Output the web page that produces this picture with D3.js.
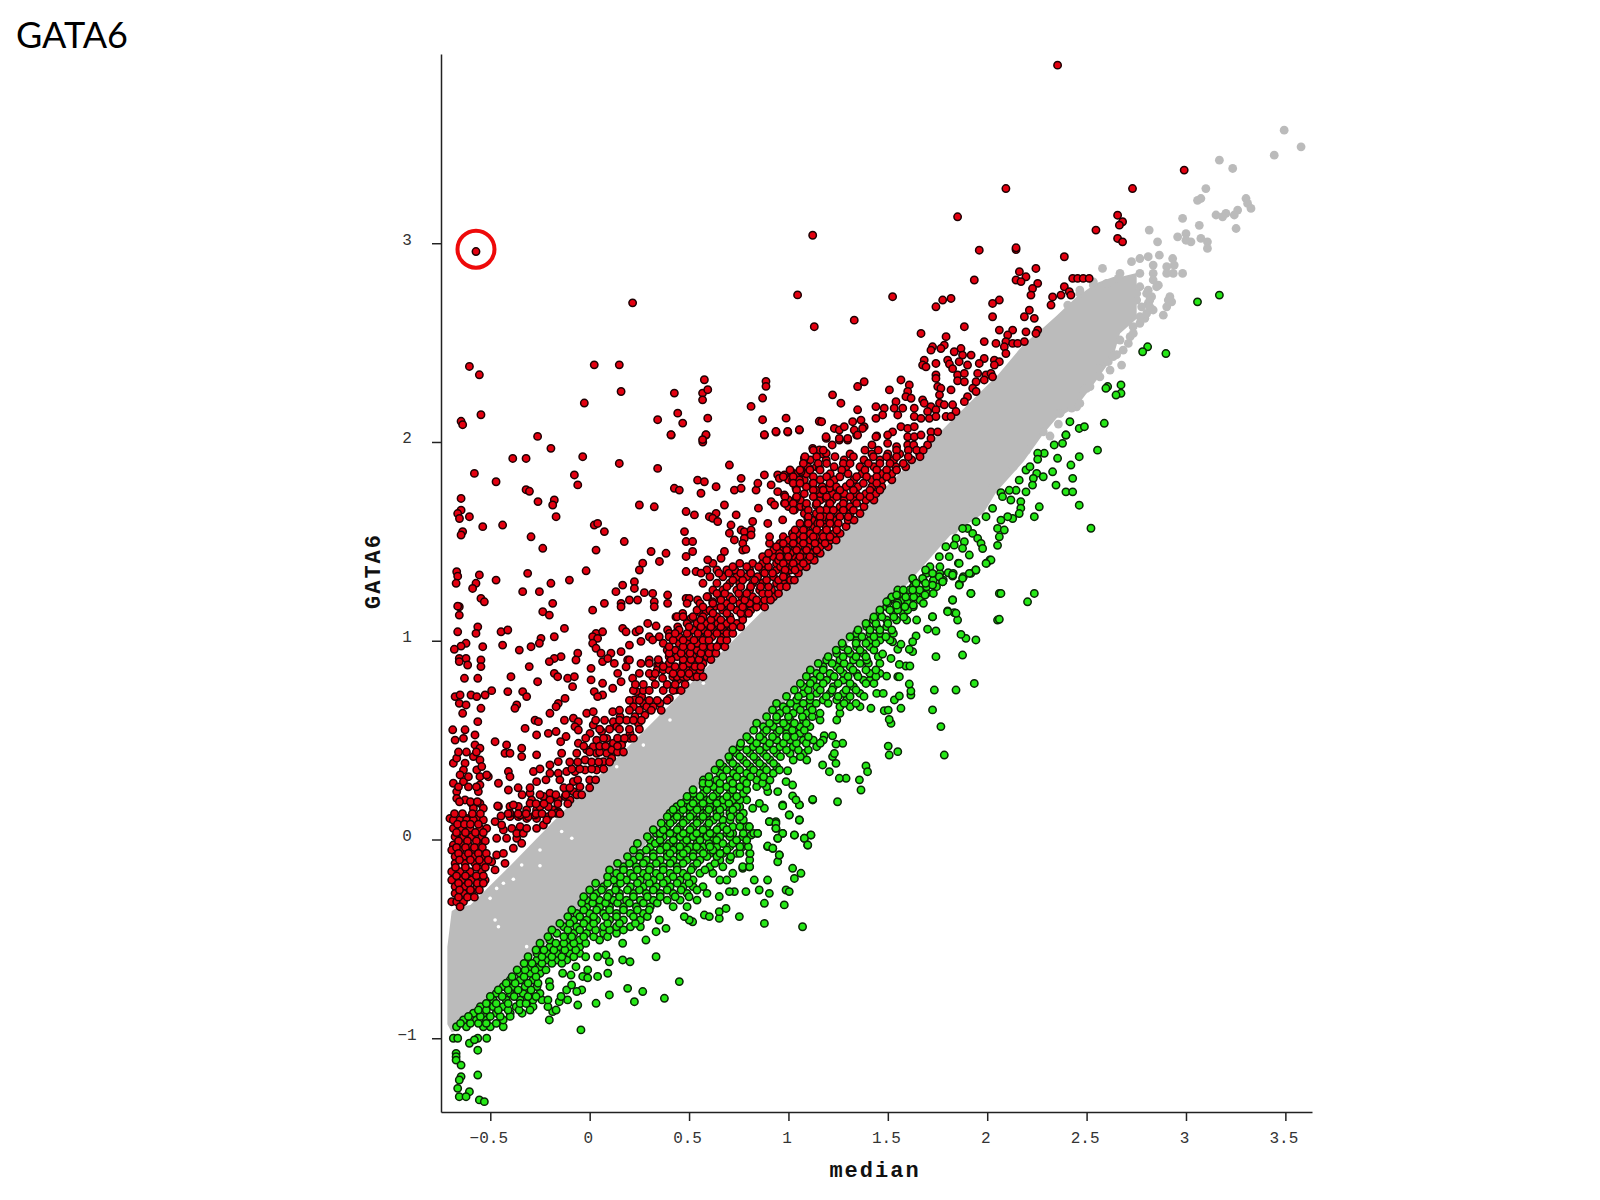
<!DOCTYPE html>
<html><head><meta charset="utf-8">
<script src="https://cdnjs.cloudflare.com/ajax/libs/d3/7.8.5/d3.min.js"></script>
<style>html,body{margin:0;background:#fff}svg{display:block}</style>
</head><body><svg id="c" width="1600" height="1200"></svg>
<script>
const chartTitle="GATA6", xTitle="median", yTitle="GATA6";
const xTicks=[-0.5,0,0.5,1,1.5,2,2.5,3,3.5];
const yTicks=[-1,0,1,2,3];
const highlighted=[-0.572,2.97];

const bandX=[-.716,-.694,-.66,-.6,-.418,-.183,-.015,.136,.337,.454,.8,1.194,1.427,1.628,1.813,1.98,2.047,2.182,2.282,2.349,2.449,2.55,2.634,2.668,2.752];
const bandTop=[-.54,-.36,-.34,-.33,-.15,.09,.26,.41,.61,.73,1.08,1.475,1.71,1.91,2.10,2.265,2.33,2.49,2.575,2.635,2.73,2.80,2.83,2.83,2.85];
const bandBottom=[-.93,-.97,-.96,-.9,-.707,-.489,-.305,-.17,.031,.165,.51,.903,1.09,1.32,1.53,1.64,1.75,1.9,2.04,2.12,2.177,2.311,2.429,2.546,2.62];

const grayX=[3.494,3.579,3.444,3.168,3.235,3.1,3.075,3.058,3.302,3.31,3.327,3.26,3.243,3.201,3.184,3.151,2.983,3.067,3.252,2.815,2.857,2.958,3.0,3.0,3.025,3.075,3.108,3.108,2.58,2.983,2.405,2.726,2.768,2.81,2.866,2.933,2.941,2.903,2.835,2.835,2.861,2.936,2.903,2.81,2.827,2.81,2.919,2.928,2.903,2.886,2.835,2.793,2.752,2.768,2.734,2.719,2.668,2.651,2.676,2.609,2.559,2.5,2.45,2.425,2.366,2.358,2.316,2.534,2.601,2.659,2.466,2.768,2.768,2.752,2.777,2.768,2.735,2.71,2.684,2.634,2.618,2.567,2.517,2.483,2.466,2.835,2.852,2.802,2.818,2.818,2.802,2.911,2.668,2.534,2.466,1.83,1.93,2.03,2.131,2.198,2.282,2.366];
const grayY=[3.569,3.485,3.443,3.418,3.376,3.275,3.225,3.216,3.225,3.2,3.175,3.167,3.142,3.15,3.133,3.142,3.125,3.09,3.074,3.066,3.007,3.032,3.048,3.015,3.007,3.024,3.007,2.974,2.873,2.848,2.689,2.907,2.923,2.932,2.94,2.923,2.89,2.882,2.89,2.848,2.789,2.848,2.848,2.764,2.731,2.697,2.731,2.705,2.68,2.638,2.664,2.622,2.714,2.63,2.58,2.53,2.513,2.439,2.387,2.404,2.37,2.27,2.177,2.17,2.145,2.09,2.03,2.789,2.798,2.823,2.747,2.848,2.781,2.747,2.68,2.597,2.546,2.496,2.462,2.429,2.362,2.328,2.278,2.261,2.194,2.815,2.781,2.747,2.714,2.68,2.647,2.714,2.848,2.806,2.764,1.557,1.657,1.775,1.876,1.959,2.051,2.144];
const specksX=[-.468,-.434,-.384,-.501,-.25,-.342,-.25,-.141,-.09,-.476,-.459,-.317,.572,.404,.27,.186,.136];
const specksY=[-.246,-.22,-.2,-.296,-.132,-.128,-.053,.04,.006,-.405,-.439,-.539,.786,.601,.475,.442,.366];

// [x values, y value(s)]
const greenLower=[
[[.451,-.044,.376,.267,.191,.225,.099,.032,-.06,-.203,-.186,-.169,-.153,-.111,-.144,-.116,-.091,-.04,-.065],[-.715,-.958,-.799,-.765,-.749,-.816,-.782,-.824,-.833,-.908,-.866,-.858,-.816,-.807,-.79,-.757,-.732,-.757,-.765]],
[[-.203,-.245,-.136,-.094,-.035,-.01,-.01,.04,.091,-.069,.04,.082,.099,.166,.203,.334,.166,.283,.334,.384,.35],[-.715,-.665,-.673,-.682,-.689,-.656,-.696,-.689,-.673,-.64,-.59,-.581,-.615,-.606,-.615,-.59,-.522,-.506,-.464,-.447,-.405]],
[[.518,.501,.476,.577,.602,.652,.652,.686,.753,.879,1.071,.879,.979,.988,1.004,.904,.853,.786,.828,.895,1.03,1.063,1.021,.946,.954,.895,.921,1.097,1.113,1.08,1.03,.971,.946,.937,.904,.937,1.004,1.055,.971,1.055,1.122,.803,.845,.812,.803,.77,.728,.703,.652],[-.414,-.405,-.388,-.38,-.388,-.397,-.363,-.347,-.388,-.422,-.439,-.321,-.329,-.254,-.262,-.271,-.254,-.262,-.204,-.204,-.196,-.17,-.145,-.112,-.078,-.036,-.044,-.028,.022,.006,.022,.031,.006,.056,.09,.09,.124,.098,.174,.174,.199,.064,.031,.022,-.137,-.145,-.262,-.262,-.287]],
[[-.686,-.664,-.518,-.563,-.605,-.58,-.563,-.672,-.672,-.672,-.647,-.563,-.647,-.656,-.664,-.605,-.656,-.622,-.555,-.53],[-1.0,-1.0,-1.0,-1.0,-1.025,-1.008,-1.06,-1.076,-1.093,-1.11,-1.135,-1.185,-1.193,-1.21,-1.252,-1.269,-1.294,-1.294,-1.31,-1.319]],
[[-.67,-.62,-.535,-.5,-.435],-.942],[[-.635,-.57,-.52,-.435],-.908],[[-.585,-.535,-.47,-.4,-.34],-.874],
[[-.55,-.485,-.435,-.37,-.285,-.21],-.841],[[-.485,-.42,-.35,-.285,-.24,-.21],-.807],[[-.47,-.4,-.335,-.25],-.774],
[[-.435,-.385,-.325,-.265,-.2],-.74],[[-.4,-.35,-.285],-.707],[[-.35,-.3,-.25],-.673],[[-.3,-.25],-.64],
[[-.265,-.215,-.165,-.115],-.606],[[-.265,-.215,-.165,-.1,-.05],-.573],[[-.2,-.15,-.1,-.05],-.539],[[-.2,-.115,-.05,.05],-.506],
[[-.165,-.08,-.015,.07,.135],-.472],[[-.13,-.065,0,.07,.135,.205,.255],-.439],[[-.08,-.015,.035,.10,.17,.255],-.405],
[[-.065,0,.07,.135,.205,.27],-.372],[[-.015,.05,.10,.17,.235,.305,.42,.49],-.338],[[-.015,.05,.12,.185,.255,.32,.39,.455,.54],-.305],
[[.035,.10,.15,.22,.285,.355,.42,.49,.59],-.271],[[.07,.135,.205,.27,.335,.405,.47,.52,.57],-.237],[[.12,.185,.255,.32,.39,.455,.52,.655,.69],-.204],
[[.135,.205,.27,.335,.405,.47,.555,.62,.72],-.17],[[.17,.235,.305,.37,.44,.52,.605,.67,.77,.805],-.137],[[.22,.285,.355,.42,.49,.555,.655,.705,.805],-.103],
[[.255,.32,.39,.455,.52,.605,.67,.74,.805],-.07],[[.305,.37,.44,.505,.57,.64,.705,.77],-.036],[[.305,.355,.42,.49,.555,.62,.74,.79],-.003],
[[.335,.42,.49,.555,.62,.69,.72,.825],.031],[[.39,.455,.52,.59,.655,.72,.79],.064],[[.405,.47,.54,.605,.67,.755],.098],
[[.44,.505,.57,.64,.705,.77],.132],[[.49,.555,.62,.69,.755],.165],[[.52,.59,.655,.72,.79],.199]];

const greenLowerDense=[
[[-.65,-.60,-.56,-.52,-.47],-.925],[[-.61,-.55,-.50,-.45,-.40],-.89],[[-.56,-.52,-.46,-.41,-.355,-.30],-.858],[[-.52,-.47,-.41,-.35,-.32],-.825],
[[-.50,-.44,-.38,-.31,-.27],-.79],[[-.46,-.41,-.36,-.295],-.757],[[-.42,-.375,-.31,-.26],-.723],[[-.39,-.33,-.27],-.69],
[[-.365,-.325,-.275,-.22],-.656],[[-.33,-.29,-.24,-.19,-.14],-.623],[[-.31,-.24,-.19,-.14,-.08,-.02],-.59],[[-.27,-.23,-.18,-.125,-.07],-.556],
[[-.25,-.17,-.13,-.08,-.02],-.522],[[-.21,-.13,-.09,-.03,.02,.09],-.489],[[-.19,-.11,-.05,.03,.10,.17],-.455],[[-.15,-.10,-.03,.02,.09,.15,.23],-.422],
[[-.11,-.05,.02,.08,.135,.22,.29],-.388],[[-.09,-.03,.035,.10,.17,.24,.30],-.355],[[-.04,.015,.08,.14,.20,.27,.34],-.32],[[-.03,.02,.09,.15,.22,.29,.355,.43,.50],-.288],
[[0,.06,.13,.19,.25,.32,.39,.46,.54],-.254],[[.03,.09,.155,.24,.30,.37,.44,.50],-.22],[[.09,.155,.22,.29,.355,.42,.49],-.187],[[.10,.17,.24,.30,.37,.44,.51,.58],-.153],
[[.14,.20,.27,.335,.405,.47,.54,.63],-.12],[[.19,.25,.32,.39,.455,.52,.59,.64,.71],-.086],[[.22,.285,.355,.42,.49,.555,.62,.69],-.053],[[.24,.33,.40,.47,.54,.60,.67,.72],-.02],
[[.29,.37,.455,.52,.59,.655,.705,.77],.014]];

const greenMid=[
[[1.784,1.767,1.725,1.935,1.843,1.734,1.742,1.876,1.943,1.893,1.868,1.742,1.7,1.642,1.625,1.625,1.608,1.725,1.801,1.834,1.851,1.826,1.918,2.061,2.052,1.997,2.013,1.943,1.918,1.88,1.86,1.826,1.855,1.804,1.776],[.425,.568,.652,.785,.752,.752,.92,.928,1.004,1.012,1.032,1.049,1.058,1.024,.995,.945,.957,1.12,1.15,1.141,1.104,1.205,1.238,1.238,1.104,1.39,1.406,1.356,1.339,1.322,1.285,1.325,1.39,1.342,1.297]],
[[1.502,1.55,1.507,1.39,1.398,1.357,1.365,1.29,1.256,1.247,1.122,1.055,1.021,1.038,.971,1.004,1.055,.904,.937,.937,1.03,.971,.946,1.113,1.08,1.097,.845,.803,.896,.921,.954,.82,.879,.854],[.47,.442,.425,.37,.341,.3,.249,.308,.308,.19,.202,.174,.219,.199,.169,.123,.098,.09,.081,.056,.023,.031,.006,.023,.006,-.028,.031,.064,-.033,-.044,-.078,.157,.157,.182]],
[[.996,.988,1.021,.946,.896,1.172,1.206,1.239,1.222,1.231,1.273,1.239,1.222,1.18,1.516,1.507,1.482,1.502,1.415,1.566,1.533,1.558,1.616,1.616,1.608,1.55,1.558,1.494,1.591,1.611,1.558,1.516,1.452,1.474,1.55,1.566,1.524,1.46,1.402],[.346,.291,.274,.241,.241,.375,.341,.383,.417,.433,.484,.48,.522,.522,.584,.604,.648,.651,.66,.66,.702,.722,.727,.747,.782,.819,.819,.822,.873,.873,.881,.911,.92,.933,.957,.982,.995,.886,.886]],
[[.404,.471,.572,.656,.756,.807],-.07],[[.387,.454,.538,.605,.756,.798],-.036],[[.354,.421,.488,.555,.639,.739,.79],-.003],
[[.354,.404,.471,.538,.605,.706,.773],.031],[[.387,.454,.521,.589,.672,.756],.065],[[.421,.488,.555,.622,.706,.773],.098],
[[.404,.454,.521,.589,.656,.723,.773],.132],[[.438,.505,.555,.605,.672,.739],.165],[[.488,.538,.605,.672,.756],.199],
[[.521,.572,.639,.706,.773],.232],[[.572,.622,.689,.756,.84,.89],.266],[[.572,.639,.706,.773,.84,.907],.299],
[[.656,.723,.79,.857,.924],.333],[[.672,.739,.807,.874,.941],.366],[[.706,.773,.84,.907,1.024,1.092],.4],
[[.739,.807,.874,.941,1.008,1.075],.433],[[.756,.823,.89,.957,1.024,1.142],.467],[[.807,.874,.941,1.008,1.075,1.125,1.175],.5],
[[.874,.941,.991,1.058],.534],[[.874,.924,.991,1.058,1.108],.568],[[.941,1.008,1.075,1.159,1.243],.601],
[[.957,1.024,1.092,1.159,1.259],.635],[[.974,1.041,1.108,1.259,1.31,1.36],.668],[[1.041,1.108,1.175,1.243,1.293],.702],
[[1.075,1.142,1.209,1.276,1.36,1.444,1.477],.735],[[1.075,1.142,1.226,1.327],.769],[[1.125,1.192,1.276,1.377,1.41],.802],
[[1.142,1.209,1.276,1.343,1.41,1.46],.836],[[1.175,1.243,1.31],.869],[[1.192,1.259,1.327,1.394],.903],
[[1.243,1.31,1.377],.936],[[1.276,1.343,1.41],.97],[[1.343,1.41,1.46,1.511],1.003],[[1.343,1.41,1.46,1.528],1.037],
[[1.394,1.444,1.494],1.071],[[1.427,1.494,1.544,1.595,1.645],1.104],[[1.46,1.528,1.578],1.138],[[1.494,1.544,1.628],1.171],
[[1.511,1.578,1.662],1.205],[[1.561,1.645,1.695],1.238],[[1.628,1.695,1.745],1.272],[[1.628,1.678,1.729,1.779],1.305],
[[1.695,1.762,1.829],1.339],[[1.712,1.762],1.372]];

const greenMidDense=[
[[.32,.37,.44,.505,.57,.64,.69],.049],[[.36,.405,.47,.54,.60],.082],[[.39,.44,.505,.57,.64,.71,.755],.115],[[.42,.47,.54,.60,.655,.72],.15],
[[.46,.52,.57,.64,.70],.182],[[.49,.555,.62,.69,.74],.216],[[.52,.59,.655,.72,.79],.25],[[.57,.60,.655,.72,.79,.87],.283],
[[.60,.67,.74,.81,.875],.316],[[.63,.69,.755,.825,.89,.955],.35],[[.655,.72,.79,.855,.925],.383],[[.70,.755,.825,.89,.96,1.06],.417],
[[.72,.79,.855,.925,.99,1.05,1.10],.45],[[.76,.84,.905,.975,1.04,1.09,1.16],.484],[[.79,.855,.92,.99,1.03,1.10],.517],[[.825,.89,.955,1.02,1.08],.55],
[[.84,.905,.975,1.03,1.09],.585],[[.89,.94,1.0,1.07,1.12],.618],[[.92,.99,1.06,1.12],.652],[[.94,1.01,1.075,1.14,1.2,1.28,1.34],.685],
[[.99,1.05,1.11,1.19,1.25,1.31,1.38],.72],[[1.03,1.10,1.16,1.22,1.29,1.34],.752],[[1.06,1.11,1.175,1.25,1.31,1.39,1.43],.785],[[1.09,1.16,1.23,1.30,1.35,1.44],.82],
[[1.11,1.175,1.26,1.325,1.39,1.44],.853],[[1.15,1.22,1.28,1.36],.886],[[1.2,1.275,1.34,1.39],.92],[[1.24,1.30,1.36,1.43],.953],
[[1.27,1.34,1.39,1.44],.987],[[1.31,1.37,1.43,1.49],1.02],[[1.35,1.41,1.46,1.52],1.054],[[1.39,1.44,1.50],1.087],
[[1.43,1.47,1.53,1.58],1.12],[[1.46,1.51,1.55,1.60],1.155],[[1.50,1.55,1.60],1.19],[[1.52,1.59,1.63],1.22],[[1.55,1.61,1.66],1.255]];

const greenUpper=[
[[3.168,3.058,2.807,2.782,2.899,2.606,2.597,2.673,2.673,2.648,2.416,2.463,2.489,2.589,2.396,2.396,2.337,2.379,2.287,2.254,2.254,2.354,2.463,2.421,2.555],[2.739,2.705,2.479,2.454,2.445,2.279,2.27,2.287,2.245,2.236,2.102,2.068,2.077,2.094,2.035,2.035,1.985,1.993,1.943,1.943,1.913,1.918,1.926,1.884,1.959]],
[[2.329,2.43,2.346,2.396,2.43,2.463,2.522,2.195,2.215,2.249,2.282,2.232,2.161,2.228,2.195,2.145,2.111],[1.85,1.817,1.783,1.749,1.749,1.682,1.566,1.859,1.876,1.842,1.825,1.817,1.808,1.783,1.749,1.757,1.757]],
[[2.069,2.077,2.119,2.169,2.169,2.161,2.128,2.103,2.069,2.237,2.262,2.027,1.994,1.944,1.901,1.927,1.876,1.952,1.969,1.977,2.052,2.086,2.061,2.052,2.019,1.994],[1.745,1.725,1.708,1.7,1.667,1.64,1.615,1.624,1.607,1.624,1.674,1.666,1.624,1.599,1.565,1.54,1.565,1.515,1.49,1.464,1.565,1.557,1.523,1.48,1.406,1.389]],
[[1.843,1.885,1.834,1.876,1.91,1.792,1.759,1.859,1.809,1.943,1.91,1.876,1.826,1.859,1.759,1.776,1.725],[1.515,1.498,1.481,1.465,1.431,1.473,1.423,1.389,1.423,1.356,1.339,1.314,1.331,1.28,1.322,1.297,1.28]],
[[1.69,1.725,1.675,1.69,1.625,1.642,1.625,1.826,1.918,2.069,2.237,2.203,1.725,1.801,1.843,2.061,1.544,1.578,1.494,1.544,1.586,1.628,1.687,1.729,1.679],[1.356,1.339,1.314,1.289,1.314,1.289,1.255,1.205,1.238,1.238,1.238,1.196,1.121,1.146,1.138,1.108,1.23,1.255,1.196,1.179,1.171,1.179,1.23,1.238,1.188]]];

const redTop=[
[[-.572,.216,1.122,1.046,1.13,-.605,-.555,.023,.149,.158,-.027,.426,.577,.568,.594,.568,.887,.887,.87,.812,.342,.443,.468,.594,.585,.409,.568,.87,.988,.937,.996,1.055,.879,1.155,-.647,-.639,-.547,-.262],[2.958,2.70,3.04,2.74,2.58,2.38,2.338,2.388,2.388,2.254,2.196,2.246,2.313,2.246,2.263,2.212,2.305,2.28,2.221,2.179,2.112,2.145,2.095,2.12,2.037,2.037,2.012,2.112,2.12,2.053,2.053,2.062,2.037,2.104,2.104,2.087,2.137,2.028]],
[[2.354,2.991,2.094,2.731,1.851,2.656,2.681,2.665,2.547,2.656,2.681,1.96,2.145,2.145,2.388,1.935,2.245,2.162,2.195,2.145,2.17,2.254,2.228,2.22,2.43,2.455,2.483,2.513],[3.896,3.368,3.275,3.275,3.133,3.141,3.108,3.091,3.066,3.024,3.007,2.965,2.968,2.977,2.932,2.815,2.873,2.857,2.831,2.815,2.807,2.798,2.772,2.739,2.823,2.823,2.823,2.823]],
[[2.388,2.413,2.371,2.421,2.329,2.321,1.524,1.776,1.818,1.742,1.331,2.061,2.027,2.027,2.212,2.187,2.237,1.885,1.667,1.793,2.061,2.128,2.103,2.195,2.254,2.245],[2.781,2.756,2.739,2.739,2.73,2.689,2.731,2.714,2.722,2.68,2.613,2.714,2.697,2.63,2.663,2.63,2.622,2.58,2.546,2.53,2.563,2.563,2.538,2.554,2.563,2.546]],
[[1.985,2.044,2.094,2.128,2.153,2.187,1.725,1.784,1.717,1.767,1.868,1.834,1.876,1.919,2.086,2.094,1.683,1.675,1.692,1.742,1.801,1.81,1.859,1.901,1.826,1.985,1.96,2.036,2.061,2.036],[2.505,2.496,2.505,2.496,2.496,2.505,2.479,2.487,2.462,2.47,2.47,2.454,2.437,2.437,2.479,2.445,2.412,2.387,2.378,2.395,2.412,2.392,2.404,2.387,2.369,2.42,2.395,2.412,2.404,2.387]],
[[1.952,1.994,2.019,2.027,1.944,1.985,1.742,1.742,1.851,1.885,1.851,1.885,1.566,1.608,1.381,1.348,1.508,1.6,1.591,1.617,1.222,1.264,1.348],[2.345,2.337,2.345,2.328,2.303,2.312,2.337,2.32,2.337,2.345,2.308,2.303,2.312,2.287,2.303,2.279,2.262,2.254,2.228,2.22,2.237,2.195,2.162]],
[[1.751,1.767,1.818,1.76,1.927,1.944,1.901,1.885,1.675,1.683,1.541,1.76,1.784,1.826,1.44,1.482,1.532,1.575,1.633,1.717,1.742,1.843],[2.279,2.27,2.262,2.237,2.27,2.254,2.228,2.203,2.212,2.195,2.203,2.195,2.187,2.187,2.178,2.17,2.17,2.17,2.17,2.178,2.162,2.153]],
[[1.44,1.474,1.55,1.633,1.667,1.7,1.709,1.742,1.793,1.818,1.323,1.365,1.381,1.167,1.231,1.256,1.281,1.331,1.373,1.348],[2.119,2.136,2.136,2.128,2.119,2.153,2.119,2.128,2.128,2.128,2.102,2.11,2.077,2.102,2.068,2.06,2.077,2.06,2.068,2.035]],
[[1.524,1.499,1.44,1.566,1.6,1.633,1.6,1.633,1.667,1.717,1.751,1.717,1.189,1.256,1.298],[2.051,2.035,2.026,2.077,2.068,2.077,2.026,2.026,2.035,2.051,2.051,2.018,2.026,2.018,2.018]]];

const redUpper=[
[[-.195,-.387,-.32,-.035,.149,.342,-.58,-.471,-.077,-.06,-.32,-.303,-.26,-.178,-.186,-.169,-.647,-.647,-.664,-.655,-.605,-.538,-.438,-.639,-.647,-.295,-.236,.023,.04,.074,.174,.032,.25,.325],[1.968,1.917,1.917,1.926,1.892,1.867,1.842,1.80,1.834,1.784,1.76,1.752,1.70,1.708,1.683,1.624,1.716,1.657,1.64,1.615,1.624,1.574,1.582,1.549,1.532,1.523,1.465,1.582,1.59,1.549,1.499,1.456,1.683,1.674]],
[[.41,.569,.585,.879,.938,.997,1.055,.426,.451,.543,.577,.56,.636,.703,.762,.728,.762,.678,.485,.527,.602,.636,.619,.644,.737,.477,.485,.518,.518,.485,.309,.384,.351,.267,.25,.678,.661,.594,.485,.535,.56],[2.035,2.0,2.035,2.035,2.05,2.05,2.06,1.767,1.758,1.808,1.8,1.742,1.775,1.884,1.817,1.758,1.767,1.683,1.65,1.633,1.624,1.641,1.616,1.6,1.633,1.549,1.499,1.499,1.449,1.424,1.449,1.44,1.399,1.39,1.356,1.449,1.415,1.407,1.348,1.348,1.34]],
[[.837,.846,.879,.913,.946,.98,1.013,1.064,1.08,1.097,1.122,1.156,1.19,1.156,.954,1.021,1.055,.946,.98,1.038,1.038,.98,.913,.93,1.03,1.122,1.139,1.173,1.19,1.206,1.088,1.139,1.19,.849],[1.758,1.792,1.834,1.784,1.834,1.834,1.851,1.851,1.918,1.876,1.968,1.96,1.943,1.867,1.817,1.809,1.809,1.75,1.733,1.716,1.767,1.692,1.70,1.683,1.658,1.792,1.758,1.758,1.716,1.767,1.675,1.683,1.658,1.667]],
[[.971,.896,.82,1.097,1.097,1.147,1.18,1.206,.711,.703,.762,.778,.812,.778,.812,.728,.77,.77,.786],[1.608,1.59,1.6,1.616,1.59,1.59,1.624,1.608,1.582,1.541,1.557,1.549,1.557,1.515,1.532,1.507,1.49,1.456,1.46]],
[[1.19,1.256,1.298,1.343,1.444,1.499,1.544],[2.018,2.01,2.01,2.035,2.03,1.993,1.976]],
[[1.125,1.175,1.385,1.452,1.544,1.603,1.645,1.678],1.959],[[1.083,1.142,1.234,1.327,1.427,1.494,1.544,1.603,1.662],1.926],
[[1.075,1.15,1.192,1.276,1.31,1.402,1.46,1.511,1.578],1.892],[[1.008,1.058,1.108,1.159,1.268,1.385,1.444,1.494,1.544],1.859],
[[.974,1.024,1.125,1.192,1.259,1.343,1.393,1.444,1.494],1.825],[[1.024,1.058,1.125,1.209,1.31,1.377,1.444],1.792],
[[1.041,1.125,1.175,1.259,1.327,1.41,1.46],1.758],[[.983,1.041,1.125,1.192,1.243,1.31,1.36,1.41],1.725],
[[.983,1.024,1.091,1.142,1.209,1.276,1.343],1.691],[[1.024,1.1,1.159,1.226,1.276,1.327],1.657],[[1.1,1.159,1.209,1.259,1.301],1.624],
[[1.058,1.1,1.159,1.209,1.251],1.59],[[1.033,1.075,1.142,1.192,1.243],1.557],[[1.024,1.075,1.125,1.175,1.209],1.523],
[[.974,1.024,1.075,1.133,1.184],1.49],[[.991,1.041,1.091,1.142],1.456],[[.957,.999,1.058,1.108],1.423],[[.974,1.024,1.075],1.389],[[.983,1.033],1.356],[[.974],1.322]];

const redMid=[
[[-.669,-.664,-.672,-.555,-.572,-.589,-.471,-.312,-.195,-.102,-.018,-.337,-.253,-.547,-.53,-.656,-.664,-.656,-.186,-.236,-.203,.015,.074,.132,.166,.225,.225,.275,.317,.392],[1.347,1.325,1.289,1.331,1.289,1.263,1.305,1.339,1.289,1.305,1.352,1.247,1.247,1.213,1.196,1.171,1.174,1.129,1.188,1.146,1.129,1.154,1.188,1.247,1.28,1.297,1.263,1.242,1.238,1.23]],
[[.158,.158,.2,.241,.325,.325,.392,.485,.501,.543,.594,.619,.627,-.664,-.563,-.572,-.446,-.412,-.127,-.438,-.538,-.622,-.647,-.681,-.178,-.245,-.253,-.295,-.354],[1.188,1.171,1.205,1.205,1.196,1.171,1.188,1.213,1.213,1.205,1.222,1.196,1.171,1.045,1.07,1.037,1.045,1.054,1.062,.978,.97,.987,.973,.957,1.02,1.012,.987,.97,.953]],
[[.032,.065,.015,.04,.015,.032,.057,.065,.166,.183,.233,.25,.292,.334,.258,.3,.317,.392,.401,.443,.434,.468,.51,.56,.585],[1.037,1.045,1.02,1.012,.987,.962,.937,.895,1.062,1.045,1.045,1.054,1.087,1.074,.997,1.02,1.004,1.054,1.037,1.07,1.12,1.137,1.112,1.137,1.146]],
[[.2,.158,.107,.091,.124,.191,-.06,-.069,-.144,-.178,-.203,-.304,-.656,-.622,-.656,-.614,-.547,-.547,-.63,-.563,-.396,-.262],[.978,.945,.937,.911,.886,.903,.937,.903,.92,.911,.895,.87,.911,.911,.895,.878,.903,.87,.811,.811,.819,.794]],
[[-.178,-.161,-.111,-.077,-.086,.007,.007,.065,.023,.065,.04,.116,.141,.158,.183,.2,.216,.25,.258,.3,.342,.367,.317,.367,.401,.418,.443,.434,.401],[.836,.819,.811,.819,.769,.861,.803,.786,.744,.727,.719,.761,.836,.794,.869,.903,.811,.836,.886,.903,.878,.861,.819,.811,.869,.819,.803,.753,.71]],
[[.236,.262,.225,.27,.22,.287,.228,.278,.245,.32,.354],[.744,.719,.702,.685,.668,.668,.618,.626,.584,.668,.685]],
[[.44,.47,.49,.52,.54,.57],.819],[[.34,.37,.40,.44,.49,.52,.555],.853],[[.30,.35,.40,.47,.50,.54,.57],.886],[[.40,.44,.49,.52,.59],.92],
[[.39,.43,.49,.54,.58,.62],.953],[[.37,.45,.49,.54,.59,.655],.987],[[.35,.40,.45,.50,.555,.615,.67],1.02],[[.45,.52,.57,.62,.67,.71],1.054],
[[.49,.54,.59,.645,.69,.74],1.087],[[.44,.47,.52,.57,.64,.705,.77],1.121],[[.54,.605,.67,.74,.79,.81],1.154],[[.49,.555,.62,.69,.755,.805,.855],1.188],
[[.59,.655,.705,.765,.82,.89,.925],1.221],[[.62,.67,.74,.805,.855,.915],1.255],[[.57,.64,.705,.755,.82,.87,.94,.974],1.289],[[.605,.67,.74,.79,.845,.925,.99],1.322],
[[.59,.64,.69,.73,.805,.87,.94,1.008,1.04],1.356],[[.62,.755,.82,.87,.94,.99,1.04,1.075],1.389],[[.87,.925,.974,1.024,1.075,1.125],1.423],[[.925,.974,1.03,1.09,1.14],1.456],
[[.905,.957,1.024,1.09,1.158,1.19],1.49],[[.905,.974,1.058,1.09,1.14,1.19],1.523],[[1.09,1.14,1.19],1.557]];

const redDense=[
[[-.665,-.63,-.60,-.56],.077],[[-.67,-.625,-.575,-.535],.035],[[-.66,-.615,-.57,-.525],-.007],[[-.67,-.625,-.58,-.54],-.04],
[[-.66,-.61,-.56,-.52],-.07],[[-.655,-.60,-.555,-.51],-.103],[[-.675,-.625,-.57,-.525],-.14],[[-.67,-.625,-.57,-.535],-.183],
[[-.66,-.61,-.565,-.535],-.22],[[-.655,-.60,-.555],-.254],[[-.66,-.615,-.58],-.29],[[-.655,-.60,-.565],.19],[[-.66,-.61,-.57],.265],[[-.66,-.62,-.57],.44],
[[-.68,-.64,-.59,-.55,-.41,-.36,-.32,-.27,-.24,-.19,-.15],.13],[[-.27,-.23,-.16,-.11],.18],[[-.34,-.25,-.17,-.12,-.065,-.04],.225],[[-.36,-.3,-.13,-.1,0],.26],
[[-.22,-.15,-.06,0,.03],.30],[[-.25,-.09,-.05,.01,.07],.355],[[-.10,-.06,.01,.045,.10],.39],[[0,.05,.14,.17],.44],[[-.03,.05,.08,.14],.47],
[[-.02,.07,.14,.175,.22],.51],[[.05,.1,.15,.2,.25],.555],[[.03,.075,.15,.22,.26],.6],[[.15,.2,.25,.31,.36],.65],[[.2,.25,.3,.34,.39],.70],
[[.22,.27,.3,.37,.42,.46],.75],[[.23,.27,.33,.39,.43,.48],.78],[[.3,.33,.42,.46,.50],.835],[[.37,.43,.47,.53,.56],.87],[[.345,.41,.47,.51,.55,.61],.905],
[[.40,.46,.505,.56,.60,.635],.937],[[.40,.47,.51,.57,.61,.64,.68],.97],[[.42,.47,.525,.57,.60,.66,.69],1.003],[[.43,.49,.545,.595,.64,.69,.72],1.037],
[[.50,.56,.61,.66,.72,.76],1.07],[[.56,.61,.66,.71,.77],1.105],[[.62,.69,.76,.80],1.138],[[.57,.66,.71,.77,.84,.88],1.17],[[.66,.72,.78,.84,.88,.91],1.205],
[[.64,.68,.75,.79,.87,.90,.95],1.238],[[.69,.76,.81,.86,.90,.96,.99],1.272],[[.72,.77,.83,.89,.95,1.01,1.03],1.305],[[.65,.70,.76,.81,.88,.92,.98,1.05],1.34],
[[.72,.79,.85,.90,.96,1.02,1.06,1.09],1.372],[[.89,.95,1.0,1.05,1.10,1.13],1.405],[[.90,.955,1.01,1.06,1.11,1.16],1.44],[[.94,.99,1.05,1.10,1.16,1.20],1.473],
[[1.0,1.06,1.11,1.17,1.21,1.24],1.506],[[1.02,1.05,1.11,1.17,1.23,1.26],1.54],[[1.08,1.13,1.19,1.24,1.29],1.575],[[1.12,1.18,1.24,1.30,1.33],1.607],
[[1.08,1.14,1.19,1.25,1.31,1.36],1.64],[[1.0,1.06,1.2,1.26,1.31,1.38],1.675],[[1.0,1.06,1.16,1.22,1.28,1.33,1.39,1.43],1.708],[[1.08,1.16,1.22,1.28,1.34,1.39,1.44],1.74],
[[1.09,1.17,1.24,1.29,1.35,1.42,1.47],1.775],[[1.0,1.08,1.16,1.23,1.33,1.42,1.47,1.52],1.81],[[1.04,1.09,1.21,1.30,1.37,1.47,1.52],1.84],[[1.14,1.23,1.29,1.36,1.43,1.54,1.59],1.875],
[[1.11,1.19,1.28,1.38,1.46,1.53,1.62],1.91],[[1.17,1.31,1.42,1.50,1.56,1.66],1.94],[[1.22,1.42,1.60,1.63,1.70],1.985]];

const redLower=[
[[-.677,-.652,-.597,-.568,-.526,-.493,-.412,-.337,-.317,-.367,-.376,-.656,-.622,-.547,-.639,-.563,-.124,-.158,-.169,-.2],[.719,.727,.727,.719,.727,.749,.744,.744,.719,.677,.66,.685,.677,.66,.635,.593,.71,.685,.668,.635]],
[[.116,.119,.153,.186,.136,.203,-.082,-.057,-.015,.018,-.127,-.275,-.258,-.325,-.267,-.208,-.169,-.119,-.146],[.643,.593,.618,.6,.568,.534,.61,.593,.635,.643,.6,.6,.593,.559,.526,.534,.543,.518,.492]],
[[-.074,-.057,.002,.018,.06,.035,.086,.119,.169,.203,-.689,-.627,-.677,-.635,-.577,-.577,-.552,-.476,-.418],[.568,.551,.534,.576,.543,.5,.509,.484,.5,.509,.552,.552,.5,.509,.526,.476,.459,.492,.476]],
[[-.426,-.401,-.342,-.342,-.267,-.141,-.057,-.015,.018,-.065,-.023,.035,.086,.111,.069,.111,.161],[.434,.434,.459,.417,.426,.434,.484,.451,.467,.434,.4,.434,.434,.451,.392,.409,.476]],
[[-.686,-.669,-.627,-.585,-.552,-.635,-.568,-.543,-.2,-.158,-.2,-.158,-.116,-.074,-.023,.035],[.384,.409,.384,.417,.4,.35,.35,.367,.375,.392,.333,.333,.342,.342,.35,.35]],
[[-.409,-.401,-.283,-.267,-.3,-.51,-.459,-.552,-.56,-.652,-.686,-.635,-.61,-.552,-.518,-.669,-.669,-.627],[.342,.316,.342,.291,.233,.316,.283,.275,.241,.325,.283,.291,.316,.316,.325,.241,.207,.199]],
[[-.082,-.049,-.082,-.124,-.2,-.233,-.292,-.241,-.2,-.158,-.409,-.459,-.401,-.359,-.317,-.594,-.552,-.535,-.585],[.291,.266,.241,.216,.233,.216,.199,.174,.199,.199,.249,.166,.166,.166,.149,.182,.182,.157,.157]],
[[-.267,-.183,-.208,-.158,-.703,-.619,-.56,-.401,-.359,-.317,-.267],[.149,.149,.115,.14,.106,.106,.106,.115,.115,.106,.106]],
[[-.686,-.652,-.619,-.585,-.535],.098],[[-.686,-.644,-.602,-.552,-.518],.056],[[-.677,-.635,-.594,-.543],.014],[[-.686,-.644,-.61,-.56],-.028],
[[-.694,-.652,-.585],-.053],[[-.677,-.635,-.585,-.543],-.086],[[-.677,-.627,-.577,-.535],-.12],[[-.694,-.652,-.602,-.543],-.162],
[[-.694,-.644,-.594,-.552,-.526],-.204],[[-.677,-.627,-.568],-.237],[[-.677,-.635,-.594],-.271],[[-.694,-.669,-.635],-.313],[[-.652],-.338],
[[-.493,-.476,-.426,-.468,-.434,-.384,-.418,-.468,-.367,-.342,-.434,-.392,-.476,-.443,-.35,-.367,-.334,-.317,-.267,-.233,-.216,-.166,-.099],[-.112,-.153,-.12,-.078,-.07,-.044,.006,.006,.006,-.019,.048,.056,.09,.073,.065,.031,.031,.056,.056,.073,.098,.132,.199]],
[[-.463,-.446,-.401,-.384,-.35,-.309,-.275,-.3,-.25,-.208],[.169,.118,.132,.174,.123,.115,.123,.182,.165,.165]]];

const svg=d3.select("#c");
const x=d3.scaleLinear().domain([-.748,3.634]).range([441,1312]);
const y=d3.scaleLinear().domain([-1.371,3.952]).range([1112,54]);
const flat=g=>g.flatMap(([xs,ys])=>xs.map((v,i)=>[v,Array.isArray(ys)?ys[i]:ys]));

// dense grey cloud
const bandRows=bandX.map((v,i)=>({x:v,t:bandTop[i],b:bandBottom[i]}));
svg.append("path").datum(bandRows).attr("fill","#bbbbbb")
  .attr("d",d3.area().x(d=>x(d.x)).y0(d=>y(d.b)).y1(d=>y(d.t)));
svg.append("g").selectAll("circle").data(d3.zip(grayX,grayY)).join("circle")
  .attr("cx",d=>x(d[0])).attr("cy",d=>y(d[1])).attr("r",4.4).attr("fill","#bbbbbb");
svg.append("g").selectAll("circle").data(d3.zip(specksX,specksY)).join("circle")
  .attr("cx",d=>x(d[0])).attr("cy",d=>y(d[1])).attr("r",1.8).attr("fill","#fff");

const dots=(data,fill,stroke)=>svg.append("g").selectAll("circle").data(data).join("circle")
  .attr("cx",d=>x(d[0])).attr("cy",d=>y(d[1])).attr("r",3.7)
  .attr("fill",fill).attr("stroke",stroke).attr("stroke-width",1.5);
dots(flat([...greenLower,...greenLowerDense,...greenMid,...greenMidDense,...greenUpper]),"#25e816","#0a2506");
dots(flat([...redLower,...redMid,...redDense,...redUpper,...redTop]),"#e40010","#1e0003");

// axes
const monoFont='"Liberation Mono","DejaVu Sans Mono",monospace';
const ax=d3.axisBottom(x).tickValues(xTicks).tickSize(9).tickSizeOuter(0).tickFormat(d=>d3.format("")(d).replace("-","\u2212"));
const gx=svg.append("g").attr("transform","translate(0,1112)").call(ax);
const ay=d3.axisLeft(y).tickValues(yTicks).tickSize(9).tickSizeOuter(0).tickFormat(d=>d3.format("")(d).replace("-","\u2212"));
const gy=svg.append("g").attr("transform","translate(441,0)").call(ay);
[gx,gy].forEach(g=>{
  g.selectAll("path,line").attr("stroke","#222").attr("stroke-width",1.5);
  g.selectAll("text").attr("font-family",monoFont).attr("font-size",16).attr("fill","#333");
});
gx.selectAll("text").attr("y",0).attr("dy",0).attr("dx",-2).attr("transform","translate(0,31)");
gy.selectAll("text").attr("x",0).attr("dy",0).attr("text-anchor","middle")
  .attr("transform","translate(-34,1)");

// titles
svg.append("text").attr("x",875).attr("y",1177).attr("text-anchor","middle")
  .attr("font-family",monoFont).attr("font-weight","bold").attr("font-size",22).attr("letter-spacing",2).attr("fill","#111").text(xTitle);
svg.append("text").attr("transform","translate(380,571) rotate(-90)").attr("text-anchor","middle")
  .attr("font-family",monoFont).attr("font-weight","bold").attr("font-size",22).attr("letter-spacing",2).attr("fill","#111").text(yTitle);
svg.append("text").attr("x",16).attr("y",48).attr("font-family","Lato,'Open Sans',sans-serif").attr("font-size",36).attr("fill","#000").text(chartTitle);

// highlight ring
svg.append("circle").attr("cx",x(highlighted[0])).attr("cy",y(highlighted[1])).attr("r",18.5)
  .attr("fill","none").attr("stroke","#ee0a0a").attr("stroke-width",4);
</script></body></html>
